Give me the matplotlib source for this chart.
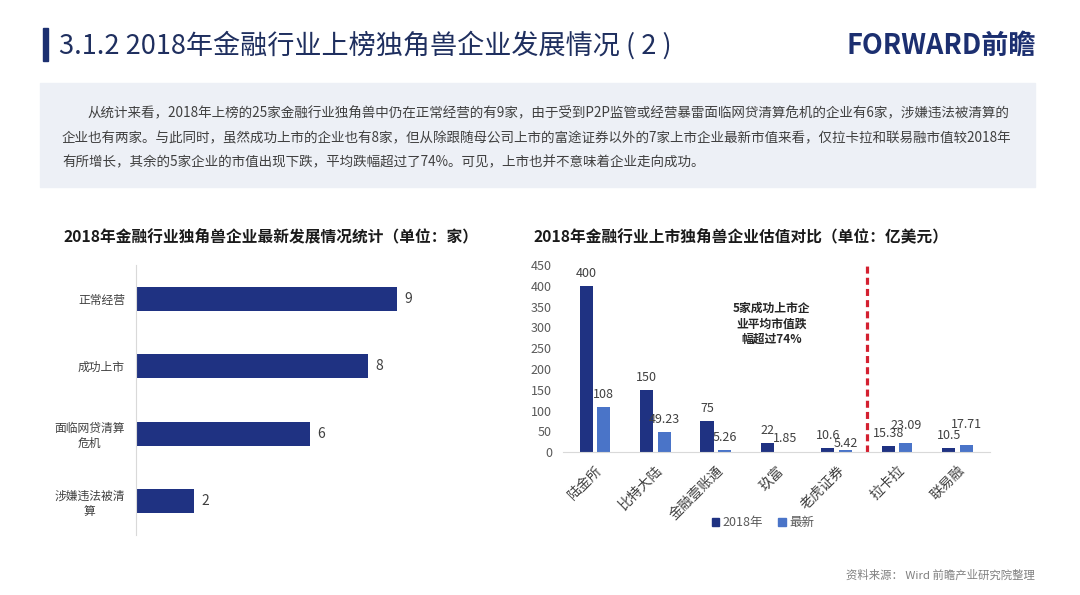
import matplotlib
matplotlib.use("Agg")
import matplotlib.pyplot as plt
from matplotlib.patches import Rectangle, Patch

plt.rcParams['font.family'] = ['Noto Sans CJK SC', 'DejaVu Sans']

# ---------------- data ----------------
status_categories = ["正常经营", "成功上市", "面临网贷清算\n危机", "涉嫌违法被清\n算"]
status_counts = [9, 8, 6, 2]

companies = ["陆金所", "比特大陆", "金融壹账通", "玖富", "老虎证券", "拉卡拉", "联易融"]
val_2018 = [400, 150, 75, 22, 10.6, 15.38, 10.5]
val_latest = [108, 49.23, 5.26, 1.85, 5.42, 23.09, 17.71]
label_2018 = ["400", "150", "75", "22", "10.6", "15.38", "10.5"]
label_latest = ["108", "49.23", "5.26", "1.85", "5.42", "23.09", "17.71"]
yticks_right = [0, 50, 100, 150, 200, 250, 300, 350, 400, 450]
legend_labels = ["2018年", "最新"]

title_main = "3.1.2 2018年金融行业上榜独角兽企业发展情况 ( 2 )"
body_lines = [
    "从统计来看，2018年上榜的25家金融行业独角兽中仍在正常经营的有9家，由于受到P2P监管或经营暴雷面临网贷清算危机的企业有6家，涉嫌违法被清算的",
    "企业也有两家。与此同时，虽然成功上市的企业也有8家，但从除跟随母公司上市的富途证券以外的7家上市企业最新市值来看，仅拉卡拉和联易融市值较2018年",
    "有所增长，其余的5家企业的市值出现下跌，平均跌幅超过了74%。可见，上市也并不意味着企业走向成功。",
]
left_title = "2018年金融行业独角兽企业最新发展情况统计（单位：家）"
right_title = "2018年金融行业上市独角兽企业估值对比（单位：亿美元）"
note_text = "5家成功上市企\n业平均市值跌\n幅超过74%"
source_text = "资料来源： Wird 前瞻产业研究院整理"

# ---------------- style ----------------
DARK = "#1f3282"
LIGHT = "#4a74c8"
NAVY = "#1c2f70"
TXT = "#404040"
GRAY = "#595959"

W, H = 1080, 595
fig = plt.figure(figsize=(W / 100, H / 100), dpi=100)
fig.patch.set_facecolor("white")

def fx(x):
    return x / W

def fy(y):
    return 1 - y / H

# header
fig.patches.append(Rectangle((fx(43), fy(61)), fx(5), (61 - 28) / H,
                             transform=fig.transFigure, color=NAVY, zorder=1))
fig.text(fx(59), fy(45), title_main, fontsize=19.5, color="#1f2f5f",
         ha="left", va="center")
fig.text(fx(1036), fy(46), "FORWARD前瞻", fontsize=19.5, fontweight="bold",
         color=NAVY, ha="right", va="center")

# text box
fig.patches.append(Rectangle((fx(40), fy(187)), fx(995), (187 - 83) / H,
                             transform=fig.transFigure, color="#edf0f6", zorder=0))
line_y = [113, 138, 162]
line_x = [88, 62, 62]
for txt, x, y in zip(body_lines, line_x, line_y):
    fig.text(fx(x), fy(y), txt, fontsize=9.75, color=TXT, ha="left", va="center")

# ---------------- left chart ----------------
fig.text(fx(63), fy(237), left_title, fontsize=11.3, fontweight="bold",
         color="#1a1a1a", ha="left", va="center")
axL = fig.add_axes([fx(136), fy(535), fx(348), (535 - 265) / H])
ypos = list(range(len(status_categories)))
axL.barh(ypos, status_counts, height=0.35, color=DARK)
axL.set_xlim(0, 12)
axL.set_ylim(3.5, -0.5)
axL.set_yticks(ypos)
axL.set_yticklabels(status_categories, fontsize=8.5, color=TXT, multialignment="center")
axL.tick_params(axis="y", length=0, pad=8)
axL.set_xticks([])
for s in ["top", "right", "bottom"]:
    axL.spines[s].set_visible(False)
axL.spines["left"].set_color("#d9d9d9")
axL.patch.set_alpha(0)
for yv, v in zip(ypos, status_counts):
    axL.annotate(str(v), (v, yv), xytext=(5, 0), textcoords="offset points",
                 fontsize=10, color=TXT, ha="left", va="center")

# ---------------- right chart ----------------
fig.text(fx(533), fy(237), right_title, fontsize=11.3, fontweight="bold",
         color="#1a1a1a", ha="left", va="center")
axR = fig.add_axes([fx(563), fy(452.3), fx(427), (452.3 - 265) / H])
xs = list(range(len(companies)))
off, bw = 0.145, 0.22
x_d = [x - off for x in xs]
x_l = [x + off for x in xs]
axR.bar(x_d, val_2018, width=bw, color=DARK, label=legend_labels[0])
axR.bar(x_l, val_latest, width=bw, color=LIGHT, label=legend_labels[1])
axR.set_xlim(-0.53, 6.54)
axR.set_ylim(0, 450)
axR.set_yticks(yticks_right)
axR.set_yticklabels([str(t) for t in yticks_right], fontsize=9, color=GRAY)
axR.tick_params(axis="y", length=0, pad=8)
axR.set_xticks(xs)
axR.set_xticklabels(companies, rotation=45, ha="right", va="top",
                    rotation_mode="anchor", fontsize=10, color=TXT)
axR.tick_params(axis="x", length=0, pad=8)
for s in ["top", "right", "left"]:
    axR.spines[s].set_visible(False)
axR.spines["bottom"].set_color("#d9d9d9")
axR.patch.set_alpha(0)

# label nudges (points above bar top)
nudge_2018 = [9.2, 9.2, 9.2, 9.2, 9.2, 9.2, 9.2]
nudge_latest = [9.2, 9.2, 9.2, 9.2, 5.0, 12.7, 14.5]
for x, v, t, n in zip(x_d, val_2018, label_2018, nudge_2018):
    axR.annotate(t, (x, v), xytext=(0, n), textcoords="offset points",
                 fontsize=9, color=TXT, ha="center", va="center")
for x, v, t, n in zip(x_l, val_latest, label_latest, nudge_latest):
    axR.annotate(t, (x, v), xytext=(0, n), textcoords="offset points",
                 fontsize=9, color=TXT, ha="center", va="center")

axR.plot([4.5, 4.5], [0, 455], color="#d42030", linewidth=2.3,
         linestyle=(0, (2.2, 1.3)), clip_on=False)
axR.text(2.92, 308, note_text, fontsize=8.5, fontweight="bold", color="#262626",
         ha="center", va="center", linespacing=1.25)

handles = [Patch(color=DARK), Patch(color=LIGHT)]
fig.legend(handles, legend_labels, loc="center", bbox_to_anchor=(fx(763), fy(522.7)),
           ncol=2, frameon=False, fontsize=9, handlelength=0.6, handleheight=0.6,
           handletextpad=0.3, columnspacing=1.2, labelcolor=GRAY)

# footer
fig.text(fx(1035), fy(575), source_text, fontsize=8.2, color="#808080",
         ha="right", va="center")

fig.savefig("out.png", dpi=100, facecolor="white")
